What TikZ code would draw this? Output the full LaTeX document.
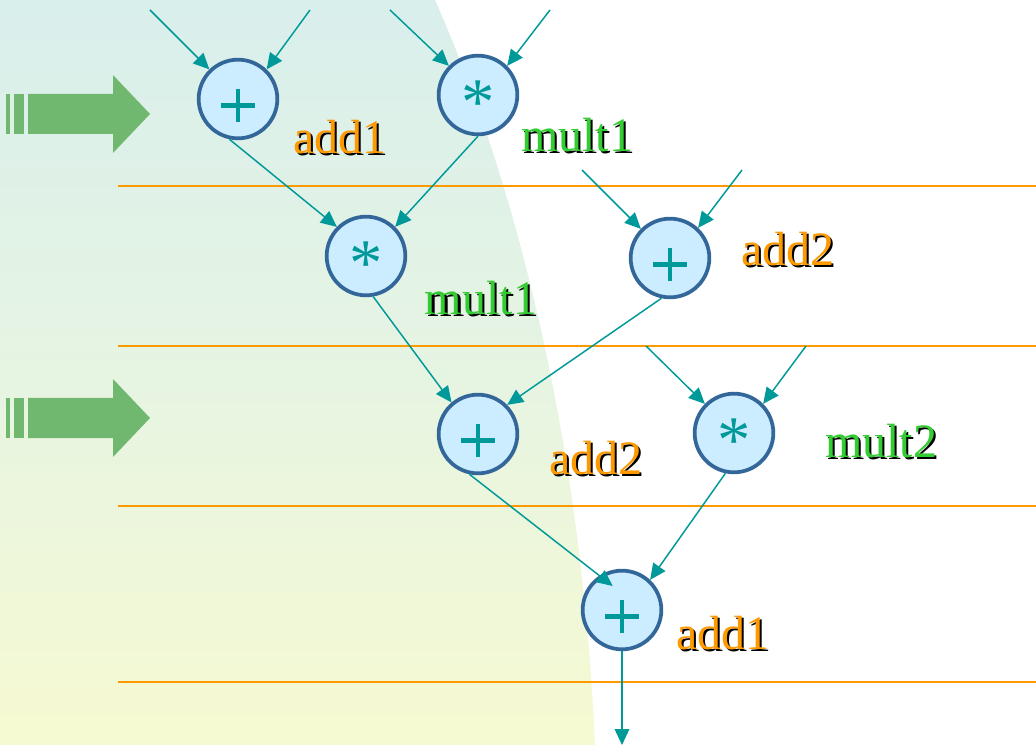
\documentclass[tikz,border=0pt]{standalone}
\usepackage{fontspec}
\setmainfont{Liberation Serif}
\usetikzlibrary{arrows.meta}
\definecolor{tealc}{HTML}{009999}
\definecolor{opfill}{HTML}{CCECFF}
\definecolor{opline}{HTML}{336699}
\definecolor{orangec}{HTML}{FF9900}
\definecolor{greenc}{HTML}{33CC33}
\definecolor{blockgreen}{HTML}{70B870}
\definecolor{shadetop}{HTML}{D9EFEC}
\definecolor{shademid}{HTML}{E6F4E2}
\definecolor{shadebot}{HTML}{F6FAD2}
\tikzset{
  opnode/.style={circle, draw=opline, line width=2.8pt, fill=opfill, minimum size=59pt, inner sep=0pt},
  flow/.style={draw=tealc, line width=1.1pt, -{Triangle[length=12pt,width=11pt]}},
  stagerule/.style={draw=orangec, line width=1.1pt},
  labeltext/.style={font=\fontsize{36}{38}\selectfont, inner sep=0pt},
  signstroke/.style={draw=tealc, line width=3.6pt},
  startext/.style={text=tealc, font=\fontsize{50}{50}\selectfont, inner sep=0pt},
}
% label with a black drop shadow
\newcommand{\oplabel}[4]{%
  \node[labeltext, text=black] at ([xshift=1.6pt,yshift=-1.6pt]#2) {#4};
  \node[labeltext, text=#3] (#1) at (#2) {#4};}
\newcommand{\plussign}[1]{%
  \draw[signstroke] ([xshift=-12.5pt,yshift=-5pt]#1.center) -- ([xshift=12.5pt,yshift=-5pt]#1.center);
  \draw[signstroke] ([yshift=7.5pt]#1.center) -- ([yshift=-17.5pt]#1.center);}
\newcommand{\starsign}[1]{%
  \node[startext] at ([yshift=-6pt]#1.center) {*};}
\begin{document}
\begin{tikzpicture}[x=0.75pt, y=-0.75pt]
\useasboundingbox (0,0) rectangle (1036,745);
\fill[white] (0,0) rectangle (1036,745);
% shaded backdrop
\shade[top color=shadetop, bottom color=shadebot, middle color=shademid]
  (0,0) -- (435,0) .. controls (510,170) and (580,420) .. (595,745) -- (0,745) -- cycle;

% stage boundaries
\foreach \yy in {186,346,506,682} \draw[stagerule] (118,\yy) -- (1036,\yy);

% green block arrows
\foreach \yc in {114,418} {
  \fill[blockgreen] (6,\yc-20) rectangle (10,\yc+20);
  \fill[blockgreen] (14,\yc-20) rectangle (24,\yc+20);
  \fill[blockgreen] (28,\yc-20) -- (113,\yc-20) -- (113,\yc-39) -- (150,\yc) -- (113,\yc+39) -- (113,\yc+20) -- (28,\yc+20) -- cycle;
}

% operation nodes
\node[opnode] (a1) at (238,99) {};
\node[opnode] (m1) at (478,95) {};
\node[opnode] (m1b) at (366,256) {};
\node[opnode] (a2) at (670,258) {};
\node[opnode] (a2b) at (478,434) {};
\node[opnode] (m2) at (734,433) {};
\node[opnode] (a1b) at (622,610) {};

\plussign{a1}
\starsign{m1}
\starsign{m1b}
\plussign{a2}
\plussign{a2b}
\starsign{m2}
\plussign{a1b}

% free inputs and output
\coordinate (i1) at (150,10);
\coordinate (i2) at (310,10);
\coordinate (i3) at (390,10);
\coordinate (i4) at (550,10);
\coordinate (i5) at (582,170);
\coordinate (i6) at (742,170);
\coordinate (i7) at (646,346);
\coordinate (i8) at (806,346);
\coordinate (out) at (622,745);

\draw[flow] (i1) -- (a1.134);
\draw[flow] (i2) -- (a1.46);
\draw[flow] (i3) -- (m1.135);
\draw[flow] (i4) -- (m1.45);
\draw[flow] (i5) -- (a2.135);
\draw[flow] (i6) -- (a2.47);
\draw[flow] (i7) -- (m2.135);
\draw[flow] (i8) -- (m2.45);
\draw[flow] (a1.258) -- (m1b.135);
\draw[flow] (m1.270) -- (m1b.45);
\draw[flow] (m1b.280) -- (a2b.130);
\draw[flow] (a2.258) -- (a2b.45);
\draw[flow] (a2b.258) -- ([xshift=-7pt,yshift=18pt]a1b.center);
\draw[flow] (m2.258) -- (a1b.47);
\draw[flow] (a1b.270) -- (out);

% operation labels
\oplabel{l1}{340,137}{orangec}{add1}
\oplabel{l2}{577,135}{greenc}{mult1}
\oplabel{l3}{788,249}{orangec}{add2}
\oplabel{l4}{481,298}{greenc}{mult1}
\oplabel{l5}{596,458}{orangec}{add2}
\oplabel{l6}{881,441}{greenc}{mult2}
\oplabel{l7}{723,633}{orangec}{add1}
\end{tikzpicture}
\end{document}
